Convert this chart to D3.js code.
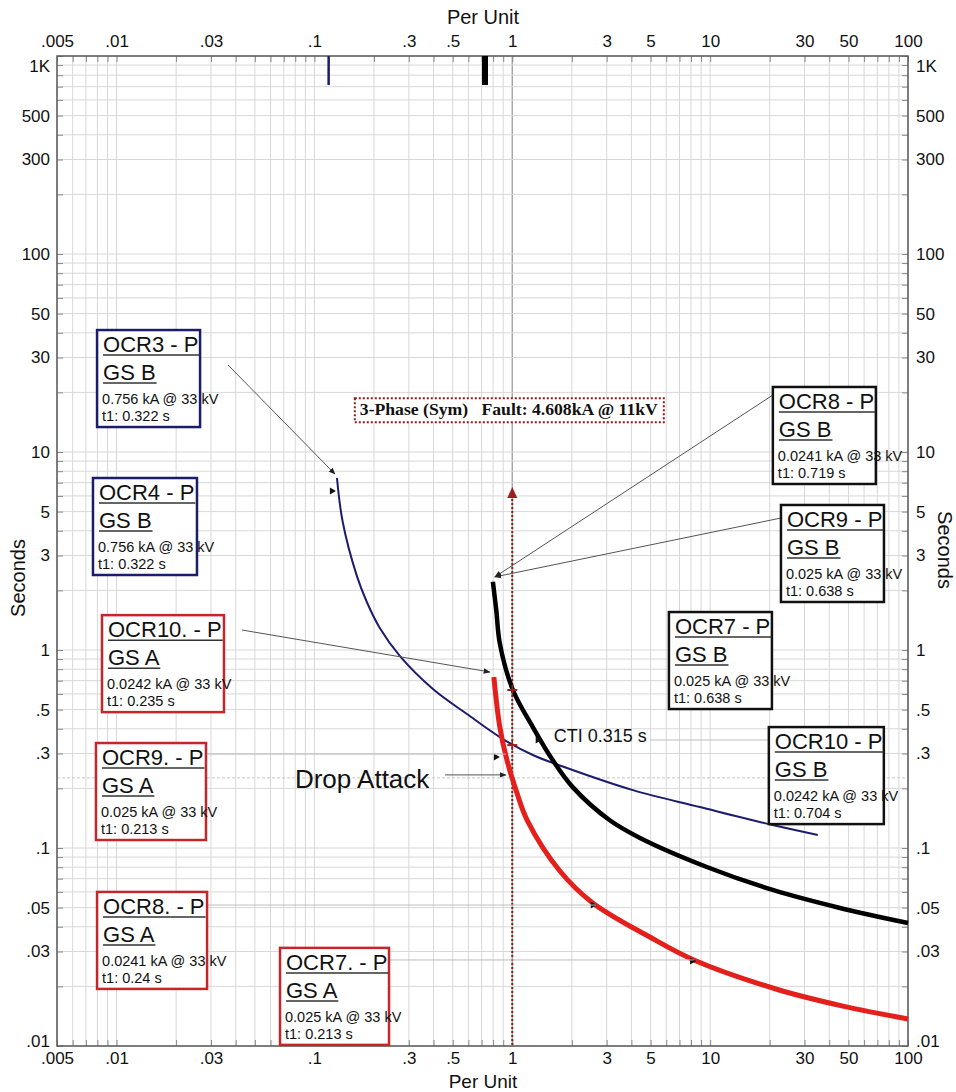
<!DOCTYPE html>
<html>
<head>
<meta charset="utf-8">
<script src="https://cdn.jsdelivr.net/npm/d3@7"></script>
<style>
body { margin: 0; background: #fff; }
svg text { font-family: "Liberation Sans", Arial, sans-serif; fill: #111; }
</style>
</head>
<body>
<div id="chart"></div>
<script>
// axis labels
var xTicks = [0.005, 0.01, 0.03, 0.1, 0.3, 0.5, 1, 3, 5, 10, 30, 50, 100];
var xTickLabels = [".005", ".01", ".03", ".1", ".3", ".5", "1", "3", "5", "10", "30", "50", "100"];
var yTicks = [1000, 500, 300, 100, 50, 30, 10, 5, 3, 1, 0.5, 0.3, 0.1, 0.05, 0.03, 0.01];
var yTickLabels = ["1K", "500", "300", "100", "50", "30", "10", "5", "3", "1", ".5", ".3", ".1", ".05", ".03", ".01"];

// time-current curves [per unit, seconds]
var curveGSB_OCR3 = [[0.130, 7.39], [0.139, 4.43], [0.164, 2.36], [0.184, 1.747], [0.214, 1.291], [0.270, 0.933],
  [0.397, 0.635], [0.590, 0.475], [0.897, 0.355], [1.27, 0.295], [1.89, 0.2535], [4.07, 0.196],
  [8.87, 0.161], [20.7, 0.1306], [35.0, 0.1164]];
var curveGSB_OCR7 = [[0.798, 2.21], [0.83, 1.59], [0.865, 1.08], [1.007, 0.628], [1.27, 0.408], [1.60, 0.278],
  [2.02, 0.203], [3.11, 0.138], [4.42, 0.1124], [9.62, 0.0802], [20.7, 0.0614], [45.3, 0.0498], [100, 0.0418]];
var curveGSA_OCR7 = [[0.807, 0.731], [0.865, 0.408], [0.94, 0.278], [1.055, 0.190], [1.19, 0.138], [1.74, 0.0765],
  [2.55, 0.0528], [4.96, 0.0355], [8.27, 0.0272], [21.5, 0.0194], [46.9, 0.0159], [100, 0.0137]];

// short pickup marks at the top [per unit, from s, to s]
var topMarkBlue = [0.118, 1000, 714];
var topMarkBlack = [0.728, 1000, 714];

// fault
var faultCurrent = 1;       // per unit
var faultArrowTop = 6.66;   // seconds
var faultLabel = "3-Phase (Sym)   Fault: 4.608kA @ 11kV";
var faultCrossings = [0.628, 0.331];

// relay annotation boxes
var boxTitles = ["OCR3 - P", "OCR4 - P", "OCR10. - P", "OCR9. - P", "OCR8. - P", "OCR7. - P",
  "OCR8 - P", "OCR9 - P", "OCR7 - P", "OCR10 - P"];
var boxGroups = ["GS B", "GS B", "GS A", "GS A", "GS A", "GS A", "GS B", "GS B", "GS B", "GS B"];
var boxCurrents = ["0.756 kA @ 33 kV", "0.756 kA @ 33 kV", "0.0242 kA @ 33 kV", "0.025 kA @ 33 kV",
  "0.0241 kA @ 33 kV", "0.025 kA @ 33 kV", "0.0241 kA @ 33 kV", "0.025 kA @ 33 kV",
  "0.025 kA @ 33 kV", "0.0242 kA @ 33 kV"];
var boxTimes = ["t1: 0.322 s", "t1: 0.322 s", "t1: 0.235 s", "t1: 0.213 s", "t1: 0.24 s", "t1: 0.213 s",
  "t1: 0.719 s", "t1: 0.638 s", "t1: 0.638 s", "t1: 0.704 s"];
var boxSeries = ["blue", "blue", "red", "red", "red", "red", "black", "black", "black", "black"];

// where the boxes sit, in chart units (top-left corner)
var boxAnchors = [[0.00797, 41.3], [0.0076, 7.39], [0.00844, 1.50], [0.00787, 0.339], [0.00797, 0.0600],
  [0.0670, 0.0313], [20.75, 21.3], [22.8, 5.40], [6.19, 1.555], [19.8, 0.408]];
var boxWidths = [103, 104, 122, 110, 110, 109, 103, 103, 103, 115];

// leader lines [[x1,y1],[x2,y2], arrow]
var leaders = [
  [[0.0366, 27.5], [0.127, 7.74], true],
  [[20.75, 19.4], [0.817, 2.34], true],
  [[22.8, 4.64], [0.817, 2.34], true],
  [[0.0430, 1.262], [0.771, 0.774], true],
  [[0.457, 0.234], [0.928, 0.234], true],
  [[4.96, 0.351], [19.7, 0.351], false],
  [[0.0287, 0.298], [0.93, 0.298], false],
  [[0.0287, 0.0515], [2.65, 0.0515], false],
  [[0.238, 0.0272], [8.27, 0.0272], false]
];
var dropLine = 0.226;

// little arrow marks sitting on the curves
var curveMarks = [[0.124, 6.35], [0.836, 0.288], [2.58, 0.0515], [8.2, 0.0269], [1.36, 0.351]];

var dropLabel = ["Drop Attack", 0.0797, 0.201];
var ctiLabel = ["CTI 0.315 s", 1.62, 0.343];

var colors = { blue: "#1c1c6c", red: "#e3201c", black: "#000000" };
var boxColors = { blue: "#1c1c6c", red: "#c4262a", black: "#111111" };

var width = 956, height = 1092;
var x = d3.scaleLog().domain([0.005, 100]).range([57, 908]);
var y = d3.scaleLog().domain([0.01, 1000]).range([1046, 56]);

var svg = d3.select("#chart").append("svg")
  .attr("width", width)
  .attr("height", height);

svg.append("defs").append("marker")
  .attr("id", "arr")
  .attr("viewBox", "0 0 10 10")
  .attr("refX", 9).attr("refY", 5)
  .attr("markerWidth", 7).attr("markerHeight", 7)
  .attr("orient", "auto")
  .append("path").attr("d", "M0,1L10,5L0,9Z").attr("fill", "#222");

// grid
var gridX = x.ticks(), gridY = y.ticks();
var grid = svg.append("g");
grid.selectAll("line.gx").data(gridX).join("line")
  .attr("class", "gx")
  .attr("x1", d => x(d)).attr("x2", d => x(d))
  .attr("y1", y(1000)).attr("y2", y(0.01))
  .attr("stroke", d => d === 1 ? "#a8a8a8" : "#d8d8d8")
  .attr("stroke-width", d => d === 1 ? 1.5 : 1);
grid.selectAll("line.gy").data(gridY).join("line")
  .attr("class", "gy")
  .attr("x1", x(0.005)).attr("x2", x(100))
  .attr("y1", d => y(d)).attr("y2", d => y(d))
  .attr("stroke", "#d8d8d8");

// faint drop-level line
svg.append("line")
  .attr("x1", x(0.005)).attr("x2", x(100))
  .attr("y1", y(dropLine)).attr("y2", y(dropLine))
  .attr("stroke", "#c8c8c8").attr("stroke-dasharray", "3,2");

// inner tick marks on all four sides
function tickAxis(axis, tr, vals) {
  var g = svg.append("g").attr("transform", tr)
    .call(axis.tickValues(vals).tickSize(-6).tickFormat(""));
  g.select(".domain").remove();
  g.selectAll(".tick line").attr("stroke", "#8a8a8a");
}
tickAxis(d3.axisTop(x), "translate(0," + y(1000) + ")", gridX);
tickAxis(d3.axisBottom(x), "translate(0," + y(0.01) + ")", gridX);
tickAxis(d3.axisLeft(y), "translate(" + x(0.005) + ",0)", gridY);
tickAxis(d3.axisRight(y), "translate(" + x(100) + ",0)", gridY);

// tick labels
function labelAxis(axis, tr, vals, labels) {
  var g = svg.append("g").attr("transform", tr)
    .call(axis.tickValues(vals).tickSize(0).tickPadding(0)
      .tickFormat((d, i) => labels[i]));
  g.select(".domain").remove();
  g.selectAll("text").attr("font-size", 17).attr("fill", "#111")
    .attr("font-family", "Liberation Sans, Arial, sans-serif");
  return g;
}
labelAxis(d3.axisTop(x), "translate(0,47)", xTicks, xTickLabels)
  .selectAll("text").attr("dy", 0).attr("y", 0);
labelAxis(d3.axisBottom(x), "translate(0,1064)", xTicks, xTickLabels)
  .selectAll("text").attr("dy", 0).attr("y", 0);
var yl = labelAxis(d3.axisLeft(y), "translate(50,0)", yTicks, yTickLabels);
var yr = labelAxis(d3.axisRight(y), "translate(916,0)", yTicks, yTickLabels);
[yl, yr].forEach(function (g) {
  g.selectAll(".tick").attr("transform", function (d) {
    return "translate(0," + Math.max(66, Math.min(1041, y(d))) + ")";
  });
  g.selectAll("text").attr("x", 0).attr("dy", "0.35em");
});

// plot frame
svg.append("rect")
  .attr("x", x(0.005)).attr("y", y(1000))
  .attr("width", x(100) - x(0.005)).attr("height", y(0.01) - y(1000))
  .attr("fill", "none").attr("stroke", "#5a5a5a").attr("stroke-width", 1.5);

// axis titles
svg.append("text").attr("x", 483).attr("y", 24).attr("text-anchor", "middle")
  .attr("font-size", 20).text("Per Unit");
svg.append("text").attr("x", 483).attr("y", 1088).attr("text-anchor", "middle")
  .attr("font-size", 19).text("Per Unit");
svg.append("text").attr("transform", "translate(25,578) rotate(-90)").attr("text-anchor", "middle")
  .attr("font-size", 20).text("Seconds");
svg.append("text").attr("transform", "translate(938,550) rotate(90)").attr("text-anchor", "middle")
  .attr("font-size", 20).text("Seconds");

// top pickup marks
svg.append("line")
  .attr("x1", x(topMarkBlue[0])).attr("x2", x(topMarkBlue[0]))
  .attr("y1", y(topMarkBlue[1])).attr("y2", y(topMarkBlue[2]))
  .attr("stroke", colors.blue).attr("stroke-width", 2.5);
svg.append("line")
  .attr("x1", x(topMarkBlack[0])).attr("x2", x(topMarkBlack[0]))
  .attr("y1", y(topMarkBlack[1])).attr("y2", y(topMarkBlack[2]))
  .attr("stroke", colors.black).attr("stroke-width", 6);

// fault line with arrow
var fx = x(faultCurrent);
svg.append("line")
  .attr("x1", fx).attr("x2", fx)
  .attr("y1", y(faultArrowTop) + 8).attr("y2", y(0.01))
  .attr("stroke", "#8b1e1e").attr("stroke-width", 2).attr("stroke-dasharray", "2,2");
svg.append("path")
  .attr("d", "M" + fx + "," + y(faultArrowTop) + "l-5,11l10,0z")
  .attr("fill", "#9b2020");

// fault label
var fb = svg.append("g").attr("transform", "translate(" + x(0.160) + "," + y(18.7) + ")");
fb.append("rect").attr("width", 309).attr("height", 24).attr("fill", "#fff")
  .attr("stroke", "#8b1e1e").attr("stroke-width", 2).attr("stroke-dasharray", "2,2");
fb.append("text").attr("x", 5).attr("y", 17)
  .attr("font-weight", "bold").attr("font-size", 16)
  .attr("textLength", 298).attr("lengthAdjust", "spacingAndGlyphs")
  .style("white-space", "pre")
  .style("font-family", "'Liberation Serif', 'Times New Roman', serif")
  .text(faultLabel);

// curves
var line = d3.line()
  .x(d => x(d[0]))
  .y(d => y(d[1]))
  .curve(d3.curveCatmullRom.alpha(0.5));
svg.append("path").datum(curveGSB_OCR3).attr("d", line)
  .attr("fill", "none").attr("stroke", colors.blue).attr("stroke-width", 2);
svg.append("path").datum(curveGSB_OCR7).attr("d", line)
  .attr("fill", "none").attr("stroke", colors.black).attr("stroke-width", 4.5);
svg.append("path").datum(curveGSA_OCR7).attr("d", line)
  .attr("fill", "none").attr("stroke", colors.red).attr("stroke-width", 5);

// crossing marks on the fault line
svg.selectAll("g.fc").data(faultCrossings).join("g")
  .attr("class", "fc")
  .attr("transform", d => "translate(" + fx + "," + y(d) + ")")
  .each(function () {
    var g = d3.select(this);
    g.append("line").attr("x1", -5).attr("x2", 5).attr("stroke", "#a01c1c").attr("stroke-width", 2);
    g.append("line").attr("y1", -5).attr("y2", 5).attr("stroke", "#a01c1c").attr("stroke-width", 1.5);
  });

// small arrow marks on the curves
svg.selectAll("path.cm").data(curveMarks).join("path")
  .attr("class", "cm")
  .attr("d", d => "M" + (x(d[0]) - 3) + "," + (y(d[1]) - 3.5) + "l6,3.5l-6,3.5z")
  .attr("fill", "#111");

// leader lines
svg.selectAll("line.leader").data(leaders).join("line")
  .attr("class", "leader")
  .attr("x1", d => x(d[0][0])).attr("y1", d => y(d[0][1]))
  .attr("x2", d => x(d[1][0])).attr("y2", d => y(d[1][1]))
  .attr("stroke", d => d[2] ? "#555" : "#bdbdbd")
  .attr("stroke-width", 1)
  .attr("marker-end", d => d[2] ? "url(#arr)" : null);

// free labels
svg.append("text").attr("x", x(dropLabel[1])).attr("y", y(dropLabel[2]))
  .attr("font-size", 26).text(dropLabel[0]);
svg.append("text").attr("x", x(ctiLabel[1])).attr("y", y(ctiLabel[2]))
  .attr("font-size", 18).text(ctiLabel[0]);

// relay boxes
var boxes = svg.selectAll("g.box").data(boxTitles).join("g")
  .attr("class", "box")
  .attr("transform", (d, i) => "translate(" + x(boxAnchors[i][0]) + "," + y(boxAnchors[i][1]) + ")");
boxes.append("rect")
  .attr("width", (d, i) => boxWidths[i]).attr("height", 97)
  .attr("fill", "#fff")
  .attr("stroke", (d, i) => boxColors[boxSeries[i]])
  .attr("stroke-width", 2.5);
boxes.each(function (d, i) {
  var g = d3.select(this);
  var t1 = g.append("text").attr("x", 6).attr("y", 22).attr("font-size", 22).text(d);
  var w1 = t1.node().getComputedTextLength();
  g.append("line").attr("x1", 6).attr("x2", 7 + w1).attr("y1", 25).attr("y2", 25)
    .attr("stroke", "#333").attr("stroke-width", 1.5);
  var t2 = g.append("text").attr("x", 6).attr("y", 50).attr("font-size", 22).text(boxGroups[i]);
  var w2 = t2.node().getComputedTextLength();
  g.append("line").attr("x1", 6).attr("x2", 7 + w2).attr("y1", 53).attr("y2", 53)
    .attr("stroke", "#333").attr("stroke-width", 1.5);
  g.append("text").attr("x", 5).attr("y", 74).attr("font-size", 14.5).text(boxCurrents[i]);
  g.append("text").attr("x", 5).attr("y", 91).attr("font-size", 14.5).text(boxTimes[i]);
});
</script>
</body>
</html>
